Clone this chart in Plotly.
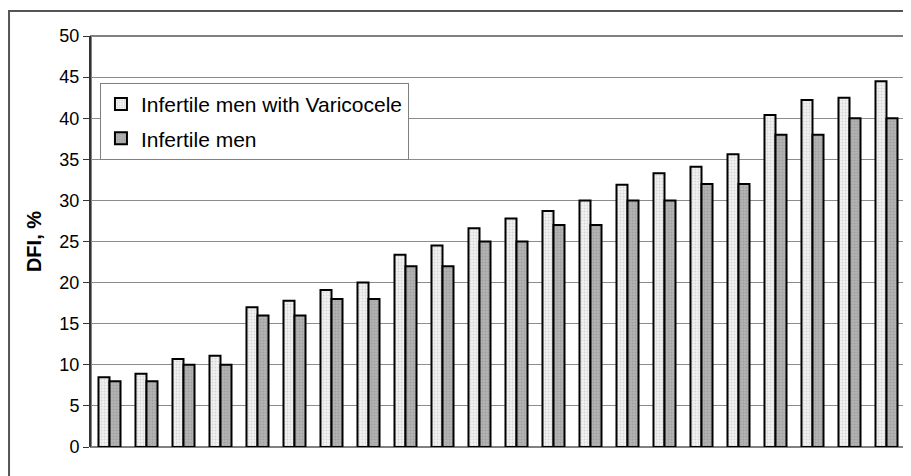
import plotly.graph_objects as go

categories = [str(i) for i in range(1, 23)]
varicocele = [8.5, 8.9, 10.7, 11.1, 17.0, 17.8, 19.1, 20.0, 23.4, 24.5, 26.6,
              27.8, 28.7, 30.0, 31.9, 33.3, 34.1, 35.6, 40.4, 42.2, 42.5, 44.5]
infertile = [8, 8, 10, 10, 16, 16, 18, 18, 22, 22, 25,
             25, 27, 27, 30, 30, 32, 32, 38, 38, 40, 40]
y_ticks = [0, 5, 10, 15, 20, 25, 30, 35, 40, 45, 50]

fig = go.Figure()
fig.add_trace(go.Bar(
    x=categories, y=varicocele, name="Infertile men with Varicocele",
    legendgroup="a",
    marker=dict(color="#ececec", line=dict(color="#000000", width=2),
                pattern=dict(shape=".", fgcolor="#b8b8b8", bgcolor="#f2f2f2",
                             size=3, solidity=0.3)),
))
fig.add_trace(go.Bar(
    x=categories, y=infertile, name="Infertile men",
    legendgroup="b",
    marker=dict(color="#a8a8a8", line=dict(color="#000000", width=2),
                pattern=dict(shape=".", fgcolor="#8a8a8a", bgcolor="#b4b4b4",
                             size=3, solidity=0.4)),
))

font_family = "Liberation Sans, Arial, sans-serif"

fig.update_layout(
    width=903, height=468,
    margin=dict(l=83, r=6, t=28, b=29),
    paper_bgcolor="white", plot_bgcolor="white",
    barmode="group", bargap=0.405, bargroupgap=0,
    showlegend=True,
    font=dict(family=font_family, color="#000000"),
    legend=dict(
        x=0.011, y=0.886, xanchor="left", yanchor="top",
        bgcolor="white", bordercolor="#808080", borderwidth=1,
        font=dict(size=21, family=font_family, color="#000"),
        tracegroupgap=4, itemwidth=30,
    ),
    xaxis=dict(
        showticklabels=False, showgrid=False, zeroline=False,
        showline=False, ticks="",
    ),
    yaxis=dict(
        range=[0, 50], tickvals=y_ticks, ticktext=[str(v) for v in y_ticks],
        showgrid=True, gridcolor="#8c8c8c", gridwidth=1,
        zeroline=False, showline=True, linecolor="#333333", linewidth=2,
        ticks="outside", ticklen=6, tickcolor="#333333", tickwidth=1,
        tickfont=dict(size=18, family=font_family, color="#000"),
        title=dict(text="<b>DFI, %</b>", font=dict(size=20, family=font_family),
                   standoff=12),
    ),
    shapes=[
        dict(type="rect", xref="paper", yref="paper", x0=0, x1=1, y0=0, y1=1,
             line=dict(color="#808080", width=2), layer="below"),
        dict(type="rect", xref="paper", yref="paper", x0=-0.1007, x1=1.02,
             y0=-0.1, y1=1.0608, line=dict(color="#555555", width=2)),
    ],
)

fig.write_html("out.html")
